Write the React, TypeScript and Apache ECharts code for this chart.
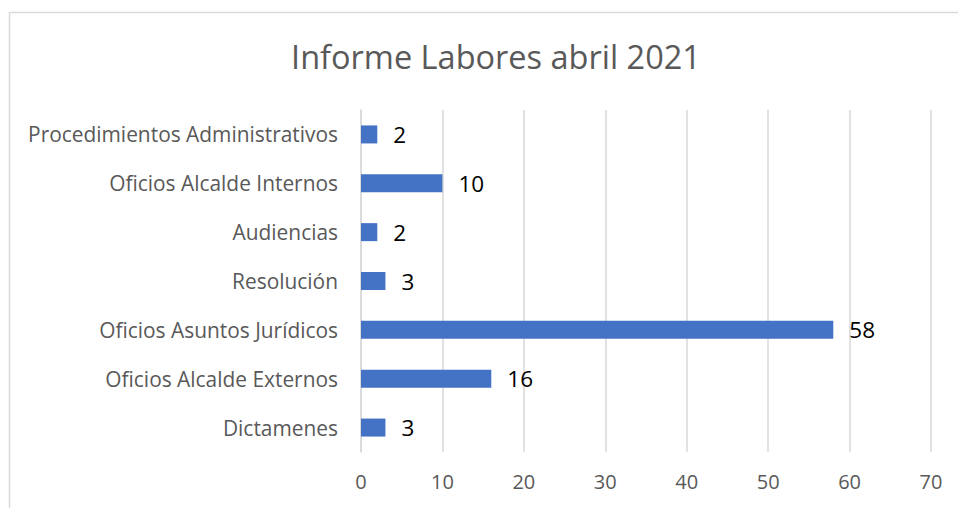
import React, { useEffect, useRef } from "react";
import * as echarts from "echarts";

const title = "Informe Labores abril 2021";
const categories = [
  "Dictamenes",
  "Oficios Alcalde Externos",
  "Oficios Asuntos Jurídicos",
  "Resolución",
  "Audiencias",
  "Oficios Alcalde Internos",
  "Procedimientos Administrativos",
];
const values = [3, 16, 58, 3, 2, 10, 2];
const xTicks = { min: 0, max: 70, interval: 10 };

export default function App() {
  const ref = useRef<HTMLDivElement>(null);
  useEffect(() => {
    if (!ref.current) return;
    const chart = echarts.init(ref.current, null, { renderer: "svg" });
    const font = "'Open Sans', 'Noto Sans', sans-serif";
    chart.setOption({
      animation: false,
      backgroundColor: "#ffffff",
      title: {
        text: title,
        left: 491,
        textAlign: "center",
        top: 35,
        textStyle: { fontFamily: font, fontSize: 32.5, fontWeight: "normal", color: "#595959" },
      },
      graphic: [
        {
          type: "rect",
          shape: { x: 9.5, y: 12.5, width: 1200, height: 1200 },
          style: { fill: "none", stroke: "#d9d9d9", lineWidth: 1.5 },
          silent: true,
        },
      ],
      grid: { left: 361, right: 27, top: 110, bottom: 56, containLabel: false },
      xAxis: {
        type: "value",
        min: xTicks.min,
        max: xTicks.max,
        interval: xTicks.interval,
        axisLine: { show: false },
        axisTick: { show: false },
        splitLine: { lineStyle: { color: "#d9d9d9", width: 1.5 } },
        axisLabel: { fontFamily: font, fontSize: 20, color: "#595959", margin: 19 },
      },
      yAxis: {
        type: "category",
        data: categories,
        axisLine: { show: true, lineStyle: { color: "#d9d9d9", width: 1.5 } },
        axisTick: { show: false },
        axisLabel: { fontFamily: font, fontSize: 20.9, color: "#595959", margin: 23 },
      },
      series: [
        {
          type: "bar",
          data: values,
          barWidth: 18,
          itemStyle: { color: "#4472c4" },
          label: {
            show: true,
            position: "right",
            distance: 16,
            fontFamily: font,
            fontSize: 22.5,
            color: "#000000",
          },
        },
      ],
    });
    return () => chart.dispose();
  }, []);
  return <div ref={ref} style={{ position: "fixed", left: 0, top: 0, width: 958, height: 508 }} />;
}
